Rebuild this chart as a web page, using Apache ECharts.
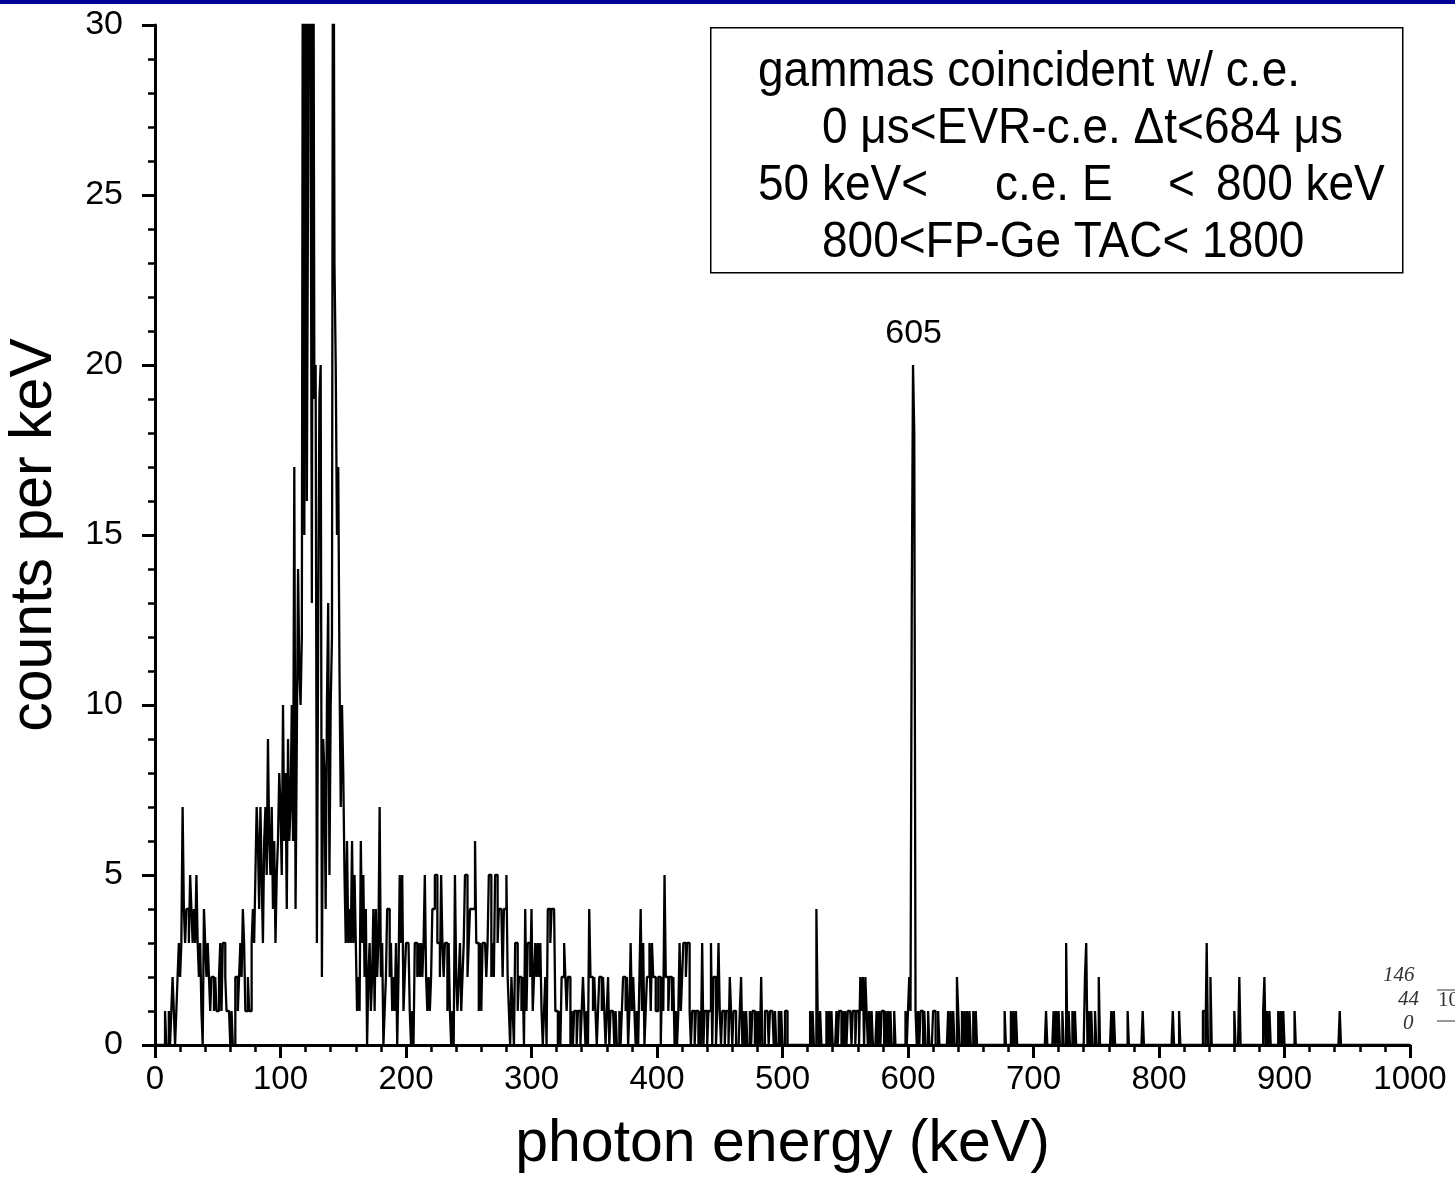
<!DOCTYPE html>
<html>
<head>
<meta charset="utf-8">
<script src="https://cdn.jsdelivr.net/npm/echarts@6/dist/echarts.min.js"></script>
<style>
html,body{margin:0;padding:0;background:#fff;}
#chart{width:1455px;height:1204px;}
</style>
</head>
<body>
<div id="chart"></div>
<script>
// Counts per keV, 1-keV bins, E = 0 .. 519 keV
const countsLow = [
  0,0,0,0,0,0,0,0,1,0,
  0,1,0,1,2,1,0,1,2,3,
  2,3,7,4,3,4,4,3,5,4,
  3,4,3,5,3,2,3,1,0,4,
  3,2,3,2,1,2,2,1,2,1,
  1,2,3,1,3,3,2,1,1,1,
  0,1,0,0,2,2,1,2,3,2,
  4,3,1,1,2,1,1,3,4,3,
  5,7,6,4,7,5,3,6,7,5,
  9,6,5,7,4,6,3,5,6,8,
  7,5,10,6,8,4,9,6,7,10,
  6,17,4,9,14,11,10,12,40,15,
  40,16,26,45,28,13,38,19,20,3,
  12,19,20,2,9,8,4,10,13,5,
  10,12,40,23,20,15,17,11,7,10,
  8,5,3,6,3,4,3,6,3,5,
  3,1,2,1,6,3,5,2,4,0,
  2,3,1,2,4,1,4,2,3,7,
  2,3,0,1,2,4,4,2,3,1,
  2,1,3,0,2,5,3,5,1,2,
  3,3,3,1,0,1,0,3,3,2,
  3,2,3,2,3,5,2,1,2,1,
  2,4,4,5,5,3,3,2,5,3,
  2,3,3,1,3,1,0,1,0,5,
  2,1,2,3,1,2,3,5,5,2,
  3,4,4,4,4,6,3,3,1,3,
  1,3,3,3,2,3,5,5,2,3,
  2,5,5,3,4,4,4,2,4,4,
  5,2,1,0,2,1,0,3,3,1,
  2,2,1,2,0,4,1,3,3,2,
  4,1,2,3,2,3,2,3,1,0,
  1,2,0,4,4,3,4,4,4,1,
  1,0,1,0,2,2,3,2,1,2,
  2,0,1,0,1,1,0,1,1,0,
  1,2,1,0,1,0,4,2,2,1,
  2,1,0,1,2,2,1,2,1,0,
  1,2,0,1,1,1,0,1,0,0,
  1,0,1,2,2,1,2,0,1,3,
  1,2,1,0,1,0,2,4,1,3,
  0,1,2,2,3,1,3,2,2,1,
  1,2,2,0,2,1,5,2,2,1,
  2,2,1,2,0,1,0,1,3,1,
  2,3,3,2,3,3,1,0,1,1,
  0,1,1,0,1,0,3,0,1,1,
  0,1,1,3,0,2,2,0,1,3,
  1,0,1,1,0,1,1,0,2,1,
  0,1,1,0,0,0,1,2,0,1,
  0,1,0,0,1,0,1,1,0,1,
  0,1,0,2,0,0,1,1,1,0,
  1,1,1,0,1,0,0,1,0,1,
  0,0,1,1,0,0,0,0,0,0,
  0,0,0,0,0,0,0,0,0,0
];
// Non-empty bins above 520 keV (all others are empty)
const sparseE = [522,524,527,528,530,535,537,539,543,545,546,548,550,552,553,554,556,557,559,560,
  562,563,564,566,567,569,571,575,577,579,580,582,584,586,589,598,600,601,602,603,604,605,606,
  608,610,611,613,616,620,621,624,632,634,636,639,640,643,645,647,649,652,654,677,682,684,686,
  710,716,718,720,723,726,728,731,733,741,742,744,746,749,752,762,764,775,787,811,816,835,836,
  838,841,860,864,883,884,886,888,895,897,899,908,944];
const sparseCounts = [1,1,4,1,1,1,1,1,1,1,1,1,1,1,1,1,1,1,1,1,
  2,1,2,2,1,1,1,1,1,1,1,1,1,1,1,1,1,2,1,13,20,18,1,
  1,1,1,1,1,1,1,1,1,1,1,2,1,1,1,1,1,1,1,1,1,1,1,
  1,1,1,1,1,3,1,1,1,2,3,1,1,1,2,1,1,1,1,1,1,1,1,
  3,2,1,2,1,2,1,1,1,1,1,1,1];
const xTicks = [0,100,200,300,400,500,600,700,800,900,1000];
const yTicks = [0,5,10,15,20,25,30];
const peakLabel = {energy: 604.5, counts: 20, text: '605'};
// annotation box lines: [text, left offset]
const boxLines = [
  [['gammas coincident w/ c.e.', 758]],
  [['0 \u03bcs<EVR-c.e. \u0394t<684 \u03bcs', 822]],
  [['50 keV<', 758], ['c.e. E', 995], ['<', 1168], ['800 keV', 1216]],
  [['800<FP-Ge TAC< 1800', 822]]
];

// build the full histogram
const counts = new Array(1000).fill(0);
countsLow.forEach((c, i) => { counts[i] = c; });
sparseE.forEach((e, i) => { counts[e] = sparseCounts[i]; });
const histData = counts.map((c, e) => [e, c]);
histData.push([1000, counts[999]]);

const chart = echarts.init(document.getElementById('chart'), null, {renderer: 'canvas'});
const font = 'Arial, "Liberation Sans", Helvetica, sans-serif';
const boxGraphics = [];
boxLines.forEach((parts, i) => {
  parts.forEach(([t, x]) => {
    boxGraphics.push({
      type: 'text', x: x, y: 47 + i * 57, scaleY: 1.08,
      style: {text: t, font: '46px ' + font, fill: '#000'}
    });
  });
});
const smallFont = 'italic 21px "Liberation Serif", "DejaVu Serif", serif';
const option = {
  backgroundColor: '#ffffff',
  animation: false,
  grid: {left: 155, right: 45, top: 25, bottom: 159, containLabel: false, outerBoundsMode: 'none'},
  xAxis: {
    type: 'value', min: 0, max: 1000, interval: 100,
    name: 'photon energy (keV)', nameLocation: 'middle', nameGap: 70,
    nameTextStyle: {fontFamily: font, fontSize: 59, color: '#000'},
    axisLine: {show: true, lineStyle: {color: '#000', width: 3}},
    axisTick: {show: true, inside: false, length: 13, lineStyle: {color: '#000', width: 3}},
    minorTick: {show: true, splitNumber: 5, length: 7, lineStyle: {color: '#000', width: 2.5}},
    axisLabel: {fontFamily: font, fontSize: 33, color: '#000', margin: 18,
      formatter: v => xTicks.includes(v) ? String(v) : ''},
    splitLine: {show: false}
  },
  yAxis: {
    type: 'value', min: 0, max: 30, interval: 5,
    name: 'counts per keV', nameLocation: 'middle', nameGap: 91,
    nameTextStyle: {fontFamily: font, fontSize: 59, color: '#000'},
    axisLine: {show: true, lineStyle: {color: '#000', width: 3}},
    axisTick: {show: true, inside: false, length: 13, lineStyle: {color: '#000', width: 3}},
    minorTick: {show: true, splitNumber: 5, length: 7, lineStyle: {color: '#000', width: 2.5}},
    axisLabel: {fontFamily: font, fontSize: 34, color: '#000', margin: 32,
      formatter: v => yTicks.includes(v) ? String(v) : ''},
    splitLine: {show: false}
  },
  series: [{
    type: 'line',
    step: 'end',
    data: histData,
    symbol: 'none',
    clip: true,
    lineStyle: {color: '#000', width: 2.3},
    markPoint: {
      symbol: 'circle', symbolSize: 0,
      data: [{coord: [peakLabel.energy, peakLabel.counts], value: peakLabel.text}],
      label: {show: true, position: 'top', distance: 14, formatter: peakLabel.text,
        fontFamily: font, fontSize: 34, color: '#000'}
    }
  }],
  graphic: [
    {type: 'rect', left: 0, top: 0, shape: {width: 1455, height: 4}, style: {fill: '#000096'}},
    {type: 'rect', left: 710, top: 27, shape: {width: 692, height: 245},
      style: {fill: '#fff', stroke: '#000', lineWidth: 1.5}},
    ...boxGraphics,
    {type: 'text', left: 1383, top: 965, style: {text: '146', font: smallFont, fill: '#333'}},
    {type: 'text', left: 1398, top: 989, style: {text: '44', font: smallFont, fill: '#333'}},
    {type: 'text', left: 1403, top: 1013, style: {text: '0', font: smallFont, fill: '#333'}},
    {type: 'text', left: 1438, top: 990, style: {text: '10', font: '21px "Liberation Serif", "DejaVu Serif", serif', fill: '#333'}},
    {type: 'line', shape: {x1: 1437, y1: 990, x2: 1455, y2: 990}, style: {stroke: '#333', lineWidth: 1}},
    {type: 'line', shape: {x1: 1437, y1: 1021, x2: 1455, y2: 1021}, style: {stroke: '#333', lineWidth: 1}}
  ]
};
chart.setOption(option);
</script>
</body>
</html>
